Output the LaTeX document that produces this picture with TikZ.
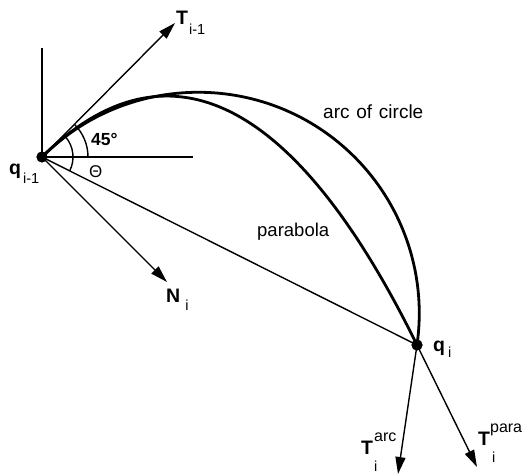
\documentclass[tikz,border=0pt]{standalone}
\usepackage{fontspec}
\setmainfont{Liberation Sans}
\usetikzlibrary{arrows.meta}
\newcommand{\scr}[1]{{\fontsize{14.5}{15}\selectfont\mdseries #1}}
\begin{document}
\begin{tikzpicture}[x=1pt,y=1pt,
  thinline/.style={line width=1.4pt},
  curve/.style={line width=2.8pt},
  vec/.style={line width=1.4pt,-{Triangle[length=17pt,width=10pt]}},
  dot/.style={circle,fill=black,inner sep=0pt,minimum size=11pt},
  lbl/.style={anchor=base west,inner sep=0pt,font=\fontsize{18.5}{20}\selectfont},
  blbl/.style={anchor=base west,inner sep=0pt,font=\fontsize{19.5}{20}\selectfont}]
\useasboundingbox (0,0) rectangle (523,474);
% points
\node[dot] (A) at (42,317) {};
\node[dot] (B) at (417,129) {};
\coordinate (Vtop) at (42,426);
\coordinate (Hend) at (193,317);
\coordinate (Ttip) at (175,451);
\coordinate (Ntip) at (167,192);
\coordinate (Tarc) at (398,0);
\coordinate (Tpara) at (477,7);
% reference lines
\draw[thinline] (A.center) -- (Vtop);
\draw[thinline] (A.center) -- (Hend);
\draw[thinline] (A.center) -- (B.center);
% angle arcs
\draw[thinline] ([shift={(0:46)}]A.center) arc[start angle=0,end angle=45,radius=46];
\draw[thinline] ([shift={(-26.6:31)}]A.center) arc[start angle=-26.6,end angle=40,radius=31];
% vectors
\draw[vec] (A.center) -- (Ttip);
\draw[vec] (A.center) -- (Ntip);
\draw[vec] (B.center) -- (Tarc);
\draw[vec] (B.center) -- (Tpara);
% curves
\draw[curve] (A.center) arc[start angle=135,end angle=-8.25,radius=221];
\draw[curve] (A.center) .. controls (165,438) and (293.3,380.6) .. (B.center);
% redraw dots on top
\node[dot] at (A) {};
\node[dot] at (B) {};
% labels
\node[blbl] (lTi1) at (176,449) {\textbf{T}\hspace{1pt}\raisebox{-10pt}{\scr{i-1}}};
\node[blbl] (lqi1) at (9,299) {\textbf{q}\hspace{2pt}\raisebox{-9pt}{\scr{i-1}}};
\node[blbl] (lNi) at (166,171) {\textbf{N}\hspace{5pt}\raisebox{-8pt}{\scr{i}}};
\node[blbl] (lqi) at (433,122) {\textbf{q}\hspace{3pt}\raisebox{-6pt}{\scr{i}}};
\node[blbl] (lTarc) at (361,19) {\textbf{T}\hspace{1pt}\rlap{\raisebox{13pt}{\scr{\fontsize{16}{16}\selectfont arc}}}\raisebox{-17pt}{\scr{i}}};
\node[blbl] (lTpara) at (478,28) {\textbf{T}\hspace{0pt}\rlap{\raisebox{13pt}{\scr{\fontsize{16}{16}\selectfont para}}}\hspace{2pt}\raisebox{-17pt}{\scr{i}}};
\node[lbl,font=\fontsize{17.5}{18}\selectfont\bfseries] (l45) at (91,328) {45°};
\node[lbl,font=\fontsize{17}{18}\selectfont] (lth) at (89,296) {Θ};
\node[lbl,font=\fontsize{19}{20}\selectfont] (larc) at (323,355) {arc\hspace{1.5pt} of\hspace{1.5pt} circle};
\node[lbl] (lpar) at (257,237) {parabola};
\end{tikzpicture}
\end{document}
